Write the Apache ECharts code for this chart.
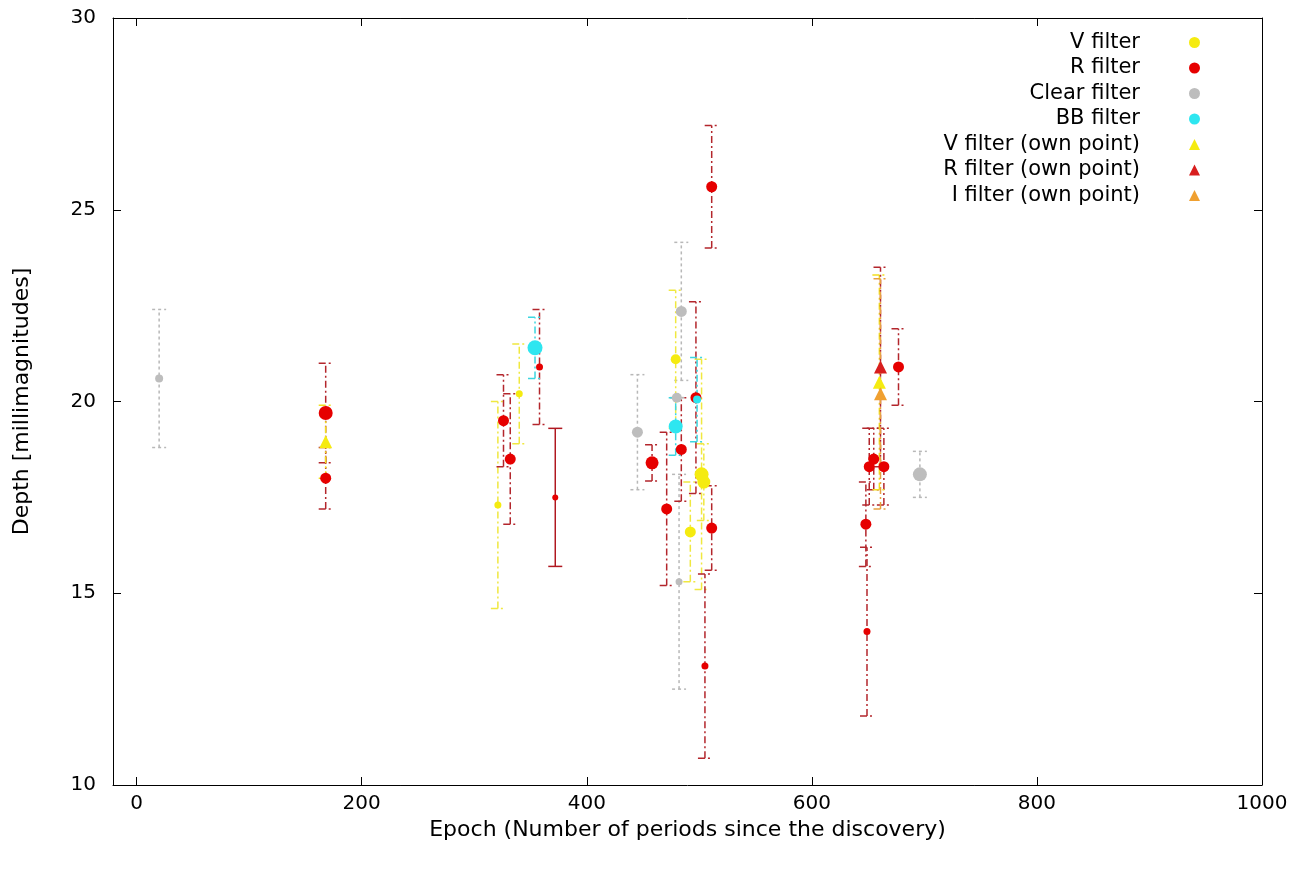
<!DOCTYPE html>
<html>
<head>
<meta charset="utf-8">
<script src="https://cdn.jsdelivr.net/npm/echarts@6/dist/echarts.min.js"></script>
<style>html,body{margin:0;padding:0;background:#fff;}#chart{width:1312px;height:870px;}</style>
</head>
<body>
<div id="chart"></div>
<script>
// ---- data: [epoch, depth, error] ----
const vFilter     = [[321, 17.3, 2.7], [340, 20.2, 1.3], [479, 21.1, 1.8], [492, 16.6, 1.3], [502, 18.1, 3.0], [504, 17.9, 1.0]];
const rFilter     = [[168, 19.7, 1.3], [168, 18.0, 0.8], [326, 19.5, 1.2], [332, 18.5, 1.7], [358, 20.9, 1.5], [372, 17.5, 1.8],
                     [458, 18.4, 0.47], [471, 17.2, 2.0], [484, 18.75, 1.35], [497, 20.1, 2.5], [511, 25.6, 1.6], [511, 16.7, 1.1],
                     [505, 13.1, 2.4], [648, 16.8, 1.1], [649, 14.0, 2.2], [651, 18.3, 1.0], [655, 18.5, 0.8], [664, 18.3, 1.0], [677, 20.9, 1.0]];
const clearFilter = [[20, 20.6, 1.8], [445, 19.2, 1.5], [484, 22.35, 1.8], [482, 15.3, 2.8], [696, 18.1, 0.6], [480, 20.1, 0.0]];
const bbFilter    = [[354, 21.4, 0.8], [479, 19.35, 0.75], [498, 20.05, 1.1]];
const vOwn        = [[168, 18.95, 0.95], [660, 20.5, 2.8]];
const rOwn        = [[661, 20.9, 2.6]];
const iOwn        = [[661, 20.2, 3.0]];

const xTicks = [0, 200, 400, 600, 800, 1000];
const yTicks = [10, 15, 20, 25, 30];

// ---- marker sizes (style, kept apart from values) ----
const vSizes     = [7, 7, 10, 11, 14, 13];
const rSizes     = [14, 11, 11, 11, 7, 6, 13, 11, 11, 11, 11, 11, 7, 11, 7, 11, 11, 11, 11];
const clearSizes = [8, 11, 11, 7, 14, 10];
const bbSizes    = [15, 14, 8];
const rSolidIdx  = [5];

const FONT = 'DejaVu Sans';

function errSeries(name, data, color, dash, solidIdx) {
  return {
    type: 'custom',
    name: name + ' err',
    z: 1,
    silent: true,
    data: data.map(d => [d[0], d[1] - d[2], d[1] + d[2]]),
    encode: { x: 0, y: [1, 2] },
    renderItem: function (params, api) {
      const x = api.value(0), lo = api.value(1), hi = api.value(2);
      const a = api.coord([x, lo]), b = api.coord([x, hi]);
      const cap = 7;
      const isSolid = solidIdx && solidIdx.indexOf(params.dataIndex) >= 0;
      const st = { stroke: isSolid ? '#b01820' : color, lineWidth: 1.5, lineDash: isSolid ? null : dash, fill: null };
      return {
        type: 'group',
        children: [
          { type: 'line', shape: { x1: a[0], y1: a[1], x2: b[0], y2: b[1] }, style: st },
          { type: 'line', shape: { x1: a[0] - cap, y1: a[1], x2: a[0] + cap, y2: a[1] }, style: st },
          { type: 'line', shape: { x1: b[0] - cap, y1: b[1], x2: b[0] + cap, y2: b[1] }, style: st }
        ]
      };
    }
  };
}

function ptSeries(name, data, color, symbol, sizes, fixed) {
  return {
    type: 'scatter',
    name: name,
    z: 3,
    symbol: symbol,
    symbolSize: sizes ? function (v, p) { return sizes[p.dataIndex]; } : fixed,
    itemStyle: { color: color, opacity: 1 },
    data: data.map(d => [d[0], d[1]])
  };
}

const dashDot = [7, 3, 2, 3];
const dashed = [3, 3];

const chart = echarts.init(document.getElementById('chart'), null, { renderer: 'canvas' });
chart.setOption({
  backgroundColor: '#fff',
  animation: false,
  textStyle: { fontFamily: FONT },
  grid: { left: 113, right: 50, top: 18, bottom: 85, containLabel: false },
  legend: {
    orient: 'vertical',
    right: 112,
    top: 31,
    padding: 0,
    align: 'right',
    itemWidth: 11,
    itemHeight: 11,
    itemGap: 2.5,
    selectedMode: false,
    textStyle: { fontFamily: FONT, fontSize: 21, color: '#000', lineHeight: 23, padding: [0, 44, 0, 0] },
    data: [
      { name: 'V filter', icon: 'circle' },
      { name: 'R filter', icon: 'circle' },
      { name: 'Clear filter', icon: 'circle' },
      { name: 'BB filter', icon: 'circle' },
      { name: 'V filter (own point)', icon: 'triangle' },
      { name: 'R filter (own point)', icon: 'triangle' },
      { name: 'I filter (own point)', icon: 'triangle' }
    ]
  },
  xAxis: [
    {
      type: 'value', min: -21, max: 1000, position: 'bottom',
      name: 'Epoch (Number of periods since the discovery)',
      nameLocation: 'middle', nameGap: 30,
      nameTextStyle: { fontFamily: FONT, fontSize: 22, color: '#000' },
      axisLine: { onZero: false, lineStyle: { color: '#000', width: 1 } },
      axisTick: { inside: true, length: 8, customValues: xTicks, lineStyle: { color: '#000' } },
      axisLabel: { customValues: xTicks, margin: 9, fontFamily: FONT, fontSize: 20, color: '#000',
                   formatter: function (v) { return String(v); } },
      splitLine: { show: false }
    },
    {
      type: 'value', min: -21, max: 1000, position: 'top',
      axisLine: { onZero: false, lineStyle: { color: '#000', width: 1 } },
      axisTick: { inside: true, length: 8, customValues: xTicks, lineStyle: { color: '#000' } },
      axisLabel: { show: false },
      splitLine: { show: false }
    }
  ],
  yAxis: [
    {
      type: 'value', min: 10, max: 30, interval: 5, position: 'left',
      name: 'Depth [millimagnitudes]',
      nameLocation: 'middle', nameGap: 80,
      nameTextStyle: { fontFamily: FONT, fontSize: 22, color: '#000' },
      axisLine: { show: true, onZero: false, lineStyle: { color: '#000', width: 1 } },
      axisTick: { show: true, inside: true, length: 8, lineStyle: { color: '#000' } },
      axisLabel: { margin: 17, fontFamily: FONT, fontSize: 20, color: '#000',
                   formatter: function (v) { return String(v); } },
      splitLine: { show: false }
    },
    {
      type: 'value', min: 10, max: 30, interval: 5, position: 'right',
      axisLine: { show: true, onZero: false, lineStyle: { color: '#000', width: 1 } },
      axisTick: { show: true, inside: true, length: 8, lineStyle: { color: '#000' } },
      axisLabel: { show: false },
      splitLine: { show: false }
    }
  ],
  series: [
    errSeries('Clear filter', clearFilter, '#b8b8b8', dashed),
    errSeries('V filter', vFilter, '#f0e840', dashDot),
    errSeries('R filter', rFilter, '#b3262c', dashDot, rSolidIdx),
    errSeries('BB filter', bbFilter, '#3cd6e0', dashDot),
    errSeries('V filter (own point)', vOwn, '#f2e020', dashDot),
    errSeries('R filter (own point)', rOwn, '#b3262c', dashDot),
    errSeries('I filter (own point)', iOwn, '#e8a040', dashDot),
    ptSeries('Clear filter', clearFilter, '#bdbdbd', 'circle', clearSizes),
    ptSeries('V filter', vFilter, '#f5eb10', 'circle', vSizes),
    ptSeries('R filter', rFilter, '#e60000', 'circle', rSizes),
    ptSeries('BB filter', bbFilter, '#2ee6f0', 'circle', bbSizes),
    ptSeries('V filter (own point)', vOwn, '#f5eb10', 'triangle', null, 13),
    ptSeries('R filter (own point)', rOwn, '#d81e1e', 'triangle', null, 13),
    ptSeries('I filter (own point)', iOwn, '#f0a030', 'triangle', null, 13)
  ]
});
</script>
</body>
</html>
